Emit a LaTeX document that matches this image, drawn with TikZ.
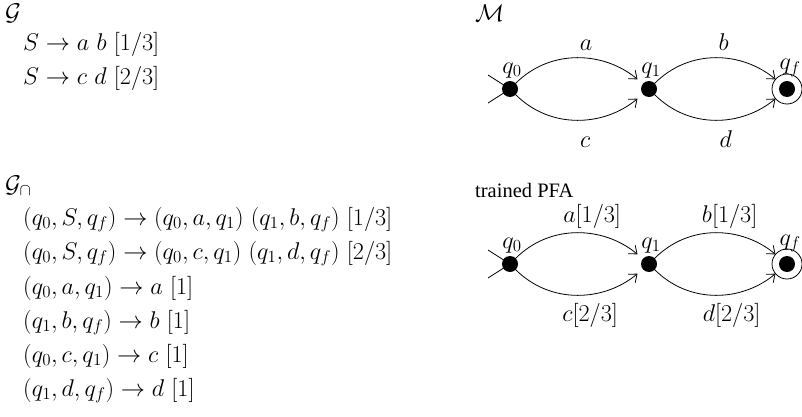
\RequirePackage{fix-cm}
\documentclass[tikz,border=0pt]{standalone}
\usepackage{fontspec}
\newfontfamily\tnr{Liberation Serif}
\usetikzlibrary{arrows.meta,calc}
\begin{document}
\begin{tikzpicture}[x=1pt,y=1pt,
  txt/.style={anchor=base west,inner sep=0pt,font=\fontsize{24.2}{29}\selectfont},
  elab/.style={anchor=base,inner sep=0pt,font=\fontsize{24.2}{29}\selectfont},
  qlab/.style={anchor=base,inner sep=0pt,font=\fontsize{24.2}{29}\selectfont},
  st/.style={circle,fill=black,inner sep=0pt,minimum size=16pt,outer sep=0pt},
  edge/.style={line width=0.8pt,-{Straight Barb[length=7pt,width=11pt,line width=0.8pt]},shorten >=7pt},
  ini/.style={line width=0.8pt},
  fin/.style={line width=0.8pt}]
\useasboundingbox (0,0) rectangle (802,416);
% left column
\node[txt] (G) at (5,395) {$\mathcal{G}$};
\node[txt] (g1) at (23,365) {$S \rightarrow a\ b\ [1/3]$};
\node[txt] (g2) at (23,331) {$S \rightarrow c\ d\ [2/3]$};
\node[txt] (Gc) at (5,224) {$\mathcal{G}_\cap$};
\node[txt] (r1) at (23,191) {$(q_0,S,q_f) \rightarrow (q_0,a,q_1)\ (q_1,b,q_f)\ [1/3]$};
\node[txt] (r2) at (23,157) {$(q_0,S,q_f) \rightarrow (q_0,c,q_1)\ (q_1,d,q_f)\ [2/3]$};
\node[txt] (r3) at (23,122) {$(q_0,a,q_1) \rightarrow a\ [1]$};
\node[txt] (r4) at (23,88) {$(q_1,b,q_f) \rightarrow b\ [1]$};
\node[txt] (r5) at (23,54) {$(q_0,c,q_1) \rightarrow c\ [1]$};
\node[txt] (r6) at (23,20) {$(q_1,d,q_f) \rightarrow d\ [1]$};
% automaton M
\node[txt] (M) at (475,394) {$\mathcal{M}$};
\node[st] (a0) at (510,327) {};
\node[st] (a1) at (649,327) {};
\node[st] (af) at (787,327) {};
\draw[fin] (af.center) circle (15);
\node[qlab] (la0) at ([shift={(2,16)}]a0.center) {$q_0$};
\node[qlab] (la1) at ([shift={(2,16)}]a1.center) {$q_1$};
\node[qlab] (laf) at ([shift={(3,19)}]af.center) {$q_f$};
\coordinate (ai1) at (488,341);
\coordinate (ai2) at (488,313);
\draw[ini] (ai1) -- (a0.center);
\draw[ini] (ai2) -- (a0.center);
\draw[edge] (a0) .. controls +(45:58) and +(140:58) .. node[elab,xshift=8,yshift=8] {$a$} (a1);
\draw[edge] (a0) .. controls +(-45:58) and +(-140:58) .. node[elab,xshift=7,yshift=-28] {$c$} (a1);
\draw[edge] (a1) .. controls +(45:58) and +(140:58) .. node[elab,xshift=7,yshift=8] {$b$} (af);
\draw[edge] (a1) .. controls +(-45:58) and +(-140:58) .. node[elab,xshift=9,yshift=-28] {$d$} (af);
% trained PFA
\node[anchor=base west,inner sep=0pt,font=\tnr\fontsize{20.5}{24}\selectfont] (P) at (475,219) {trained PFA};
\node[st] (b0) at (510,152) {};
\node[st] (b1) at (649,152) {};
\node[st] (bf) at (787,152) {};
\draw[fin] (bf.center) circle (15);
\node[qlab] (lb0) at ([shift={(2,16)}]b0.center) {$q_0$};
\node[qlab] (lb1) at ([shift={(2,16)}]b1.center) {$q_1$};
\node[qlab] (lbf) at ([shift={(3,19)}]bf.center) {$q_f$};
\coordinate (bi1) at (488,166);
\coordinate (bi2) at (488,138);
\draw[ini] (bi1) -- (b0.center);
\draw[ini] (bi2) -- (b0.center);
\draw[edge] (b0) .. controls +(45:58) and +(140:58) .. node[elab,xshift=14,yshift=11] {$a[1/3]$} (b1);
\draw[edge] (b0) .. controls +(-45:58) and +(-140:58) .. node[elab,xshift=12,yshift=-27] {$c[2/3]$} (b1);
\draw[edge] (b1) .. controls +(45:58) and +(140:58) .. node[elab,xshift=13,yshift=11] {$b[1/3]$} (bf);
\draw[edge] (b1) .. controls +(-45:58) and +(-140:58) .. node[elab,xshift=15,yshift=-27] {$d[2/3]$} (bf);
\end{tikzpicture}
\end{document}
